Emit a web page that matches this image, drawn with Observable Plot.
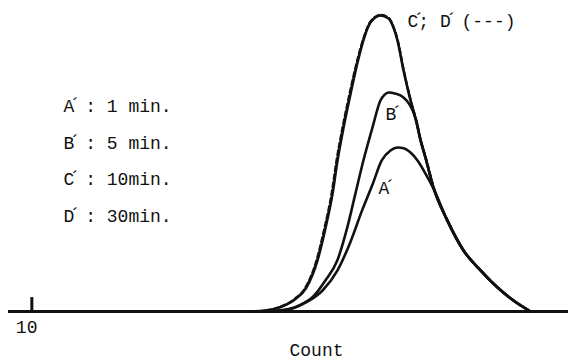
<!DOCTYPE html>
<html><head><meta charset="utf-8">
<script src="https://cdn.jsdelivr.net/npm/d3@7"></script>
<script src="https://cdn.jsdelivr.net/npm/@observablehq/plot@0.6"></script>
<style>body{margin:0;background:#fff}</style>
</head><body><div id="chart"></div>
<script>
// [count, relative intensity]
const curveA = [[110.1,0],[117.9,0.3],[127.3,3.0],[134.6,7.1],[141.0,13.9],[146.6,23.6],[151.7,34.5],[156.0,42.9],[159.9,51.0],[163.7,54.4],[166.7,55.4],[169.7,55.1],[172.3,53.7],[175.3,51.0],[178.7,46.6],[182.1,41.6],[188.1,30.7],[195.0,20.6],[202.3,13.9],[209.6,8.1],[216.4,3.7],[223.7,0]];
const curveB = [[108.9,0],[115.7,0.3],[124.3,2.0],[130.5,5.0],[135.8,10.5],[140.9,17.2],[145.2,28.4],[148.7,39.9],[152.1,51.0],[156.0,62.2],[159.4,71.3],[161.1,73.2],[162.9,74.0],[165.9,73.6],[169.3,72.3],[171.9,69.9],[173.6,67.2],[174.9,64.2],[176.6,57.8],[178.7,52.0],[182.1,41.9],[188.1,30.7],[195.0,20.6],[202.3,13.9],[209.6,8.1],[216.4,3.7],[223.7,0]];
const curveC = [[103.7,0],[110.1,0.3],[117.0,1.6],[123.0,4.2],[127.6,8.0],[132.4,17.2],[135.9,28.4],[138.9,39.9],[141.0,51.0],[143.6,62.2],[146.6,73.6],[150.0,85.5],[152.6,92.9],[155.1,97.6],[159.4,100],[162.9,99.0],[165.0,95.9],[166.7,91.6],[169.3,81.4],[172.3,71.3],[174.4,65.2],[176.6,57.8],[178.7,52.0],[182.1,41.9],[188.1,30.7],[195.0,20.6],[202.3,13.9],[209.6,8.1],[216.4,3.7],[223.7,0]];
const curveD = [[103.3,0],[109.7,0.3],[116.6,1.6],[122.6,4.2],[127.2,8.0],[132.0,17.2],[135.5,28.4],[138.5,39.9],[140.6,51.0],[143.2,62.2],[146.2,73.6],[149.7,85.5],[152.4,92.9],[155.0,97.8],[159.4,100.2],[162.9,99.2],[165.1,95.9],[166.8,91.6],[169.4,81.4],[172.4,71.3],[174.5,65.2],[176.7,57.8],[178.8,52.0],[182.2,41.9],[188.2,30.7],[195.1,20.6],[202.4,13.9],[209.7,8.1],[216.5,3.7],[223.8,0]];

const legendLabels = ["A : 1 min.", "B : 5 min.", "C : 10min.", "D : 30min."];
const peakLabel = "C; D (---)";
const peakPrimes = "\u00B4\u00A0\u00A0\u00B4";
const curveLabels = ["B", "A"];
const xTicks = [10];
const xLabel = "Count";

const ink = "#111";
const font = {fontFamily: "Liberation Mono, Courier New, monospace", fontSize: 18, fill: ink, textAnchor: "start"};
const lineStyle = {x: d => d[0], y: d => d[1], curve: "monotone-x", stroke: ink, strokeWidth: 2.6, strokeLinejoin: "round"};

const legendRows = legendLabels.map((t, i) => ({t, x: 23.6, y: 69.3 - i * 12.33}));
const curveLabelRows = [{t: curveLabels[0], x: 161.6, y: 66.6}, {t: curveLabels[1], x: 158.6, y: 41.6}];
const primeSrc = [...legendRows, ...curveLabelRows];

const chart = Plot.plot({
  width: 568, height: 360,
  marginLeft: 8, marginRight: 0, marginTop: 15, marginBottom: 49,
  x: {domain: [0, 240], axis: null},
  y: {domain: [0, 100], axis: null},
  marks: [
    Plot.ruleY([0], {stroke: ink, strokeWidth: 3}),
    Plot.ruleX(xTicks, {y1: 0, y2: 4.7, stroke: ink, strokeWidth: 3}),
    Plot.text(xTicks, {x: d => d, y: 0, text: d => String(d), dx: -16, dy: 16, ...font}),
    Plot.text([xLabel], {x: 132, y: 0, text: d => d, dy: 39, ...font, textAnchor: "middle"}),
    Plot.line(curveA, lineStyle),
    Plot.line(curveB, lineStyle),
    Plot.line(curveC, lineStyle),
    Plot.line(curveD, {...lineStyle, strokeWidth: 2.4, strokeDasharray: "5,3"}),
    Plot.text(legendRows, {x: "x", y: "y", text: "t", ...font}),
    Plot.text(curveLabelRows, {x: "x", y: "y", text: "t", ...font}),
    Plot.text(primeSrc, {x: "x", y: "y", text: () => "\u00B4", dx: 6, dy: -1, ...font}),
    Plot.text([peakLabel], {x: 171.0, y: 98.0, text: d => d, ...font}),
    Plot.text([peakPrimes], {x: 171.0, y: 98.0, text: d => d, dx: 6, dy: -1, ...font})
  ]
});
document.getElementById("chart").appendChild(chart);
</script>
</body></html>
